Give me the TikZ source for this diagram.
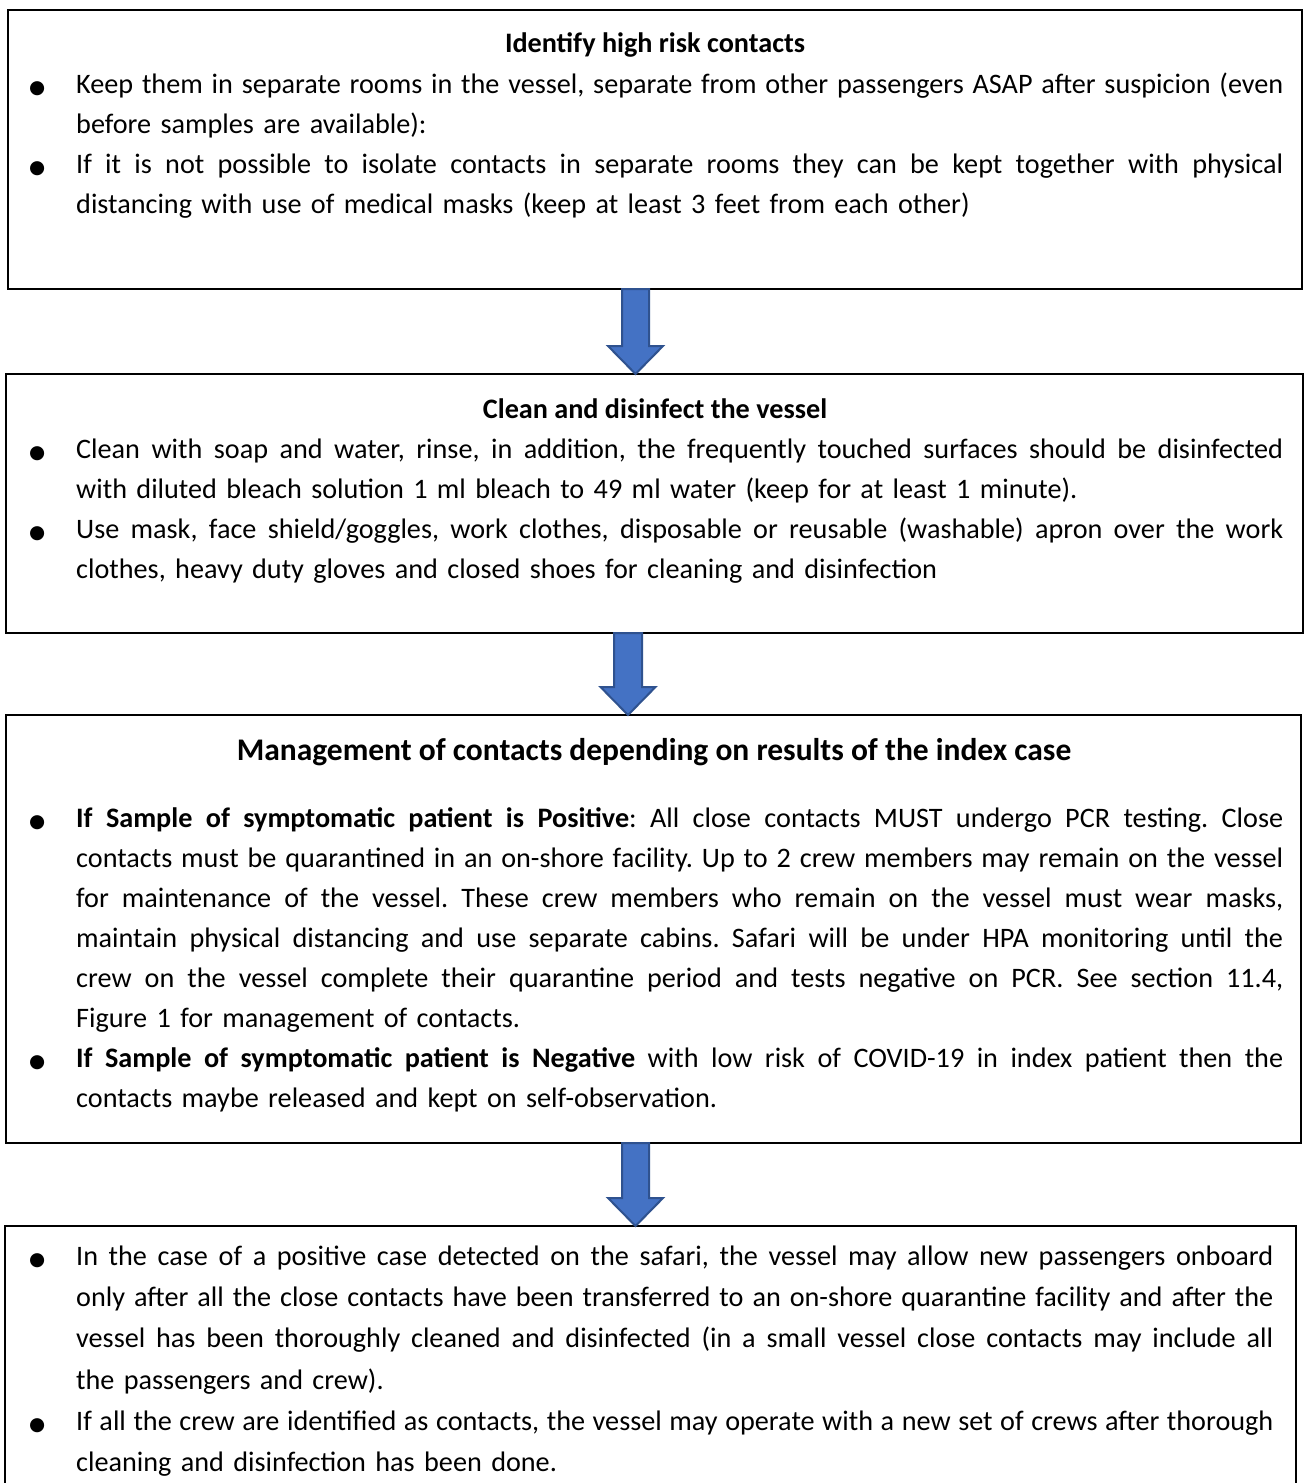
\documentclass[tikz,border=0pt]{standalone}
\usepackage{fontspec}
\setmainfont{Carlito}
\newfontfamily\symfont{DejaVu Sans}
\usetikzlibrary{calc}
\definecolor{arrowfill}{HTML}{4472C4}
\definecolor{arrowline}{HTML}{2F528F}
\frenchspacing
\newlength\bulw
\setlength\bulw{48bp}
\newlength\jw
\setlength\jw{1207bp}
\newcommand\lstrut{\rule{0pt}{25bp}}
\newcommand\bodyfont{\fontsize{28.2bp}{40.1bp}\selectfont}
\newcommand\widefont{\fontsize{28.2bp}{41.3bp}\selectfont}
\newcommand\bulmark{\makebox[\bulw][l]{\hspace{1bp}{\symfont\fontsize{18.5bp}{18.5bp}\selectfont ●}}}
\newcommand\tightsp{\spaceskip=.226em plus .8em minus .12em\relax}
\newcommand\jfirst[1]{\noindent\lstrut\bulmark\makebox[\jw][s]{\tightsp #1}\par}
\newcommand\jmid[1]{\noindent\lstrut\hspace*{\bulw}\makebox[\jw][s]{\tightsp #1}\par}
\newcommand\jlast[1]{\noindent\lstrut\hspace*{\bulw}#1\par}
\tikzset{
  box/.style={draw=black, line width=2.5bp, rectangle, inner sep=0pt, outer sep=0pt},
  title/.style={font=\bodyfont\bfseries, anchor=base, inner sep=0pt},
  bigtitle/.style={font=\fontsize{31.5bp}{40bp}\selectfont\bfseries, anchor=base, inner sep=0pt},
  body/.style={font=\bodyfont, anchor=north west, inner sep=0pt, text width=1270bp},
  bodywide/.style={font=\widefont, anchor=north west, inner sep=0pt, text width=1270bp},
  blockarrow/.style={fill=arrowfill, draw=arrowline, line width=2bp, line join=miter}
}
\newcommand\blockarrow[3]{% start coordinate, tip coordinate, half shaft width
  \draw[blockarrow] ($(#1)+(-#3,0)$) -- ($(#1)+(#3,0)$) -- ($(#2)+(#3,-28)$) -- ($(#2)+(27.5,-28)$) -- (#2) -- ($(#2)+(-27.5,-28)$) -- ($(#2)+(-#3,-28)$) -- cycle;
}
\begin{document}
\begin{tikzpicture}[x=1bp, y=-1bp]
\clip (0,0) rectangle (1307,1483);
\fill[white] (0,0) rectangle (1307,1483);

% boxes
\node[box, minimum width=1294bp, minimum height=279bp] (b1) at (655,149.5) {};
\node[box, minimum width=1297bp, minimum height=259bp] (b2) at (654.5,503.5) {};
\node[box, minimum width=1295bp, minimum height=428bp] (b3) at (653.5,929) {};
\node[box, minimum width=1291bp, minimum height=290bp] (b4) at (650.5,1371) {};

% box 1
\node[title] (t1) at (655,53) {Identify high risk contacts};
\node[body] (x1) at (28,68) {%
\jfirst{Keep them in separate rooms in the vessel, separate from other passengers ASAP after suspicion (even}
\jlast{before samples are available):}
\jfirst{If it is not possible to isolate contacts in separate rooms they can be kept together with physical}
\jlast{distancing with use of medical masks (keep at least 3 feet from each other)}};

% box 2
\node[title] (t2) at (655,418) {Clean and disinfect the vessel};
\node[body] (x2) at (28,433) {%
\jfirst{Clean with soap and water, rinse, in addition, the frequently touched surfaces should be disinfected}
\jlast{with diluted bleach solution 1 ml bleach to 49 ml water (keep for at least 1 minute).}
\jfirst{Use mask, face shield/goggles, work clothes, disposable or reusable (washable) apron over the work}
\jlast{clothes, heavy duty gloves and closed shoes for cleaning and disinfection}};

% box 3
\node[bigtitle] (t3) at (654,760) {Management of contacts depending on results of the index case};
\node[body] (x3) at (28,802) {%
\jfirst{\textbf{If Sample of symptomatic patient is Positive}: All close contacts MUST undergo PCR testing. Close}
\jmid{contacts must be quarantined in an on-shore facility. Up to 2 crew members may remain on the vessel}
\jmid{for maintenance of the vessel. These crew members who remain on the vessel must wear masks,}
\jmid{maintain physical distancing and use separate cabins. Safari will be under HPA monitoring until the}
\jmid{crew on the vessel complete their quarantine period and tests negative on PCR. See section 11.4,}
\jlast{Figure 1 for management of contacts.}
\jfirst{\textbf{If Sample of symptomatic patient is Negative} with low risk of COVID-19 in index patient then the}
\jlast{contacts maybe released and kept on self-observation.}};

% box 4
\node[bodywide] (x4) at (28,1240) {%
\setlength\jw{1197bp}%
\jfirst{In the case of a positive case detected on the safari, the vessel may allow new passengers onboard}
\jmid{only after all the close contacts have been transferred to an on-shore quarantine facility and after the}
\jmid{vessel has been thoroughly cleaned and disinfected (in a small vessel close contacts may include all}
\jlast{the passengers and crew).}
\jfirst{If all the crew are identified as contacts, the vessel may operate with a new set of crews after thorough}
\jlast{cleaning and disinfection has been done.}};

% arrows
\coordinate (ax1) at (635.5,0);
\coordinate (ax2) at (628,0);
\coordinate (a1s) at (b1.south -| ax1);
\coordinate (a1t) at (b2.north -| ax1);
\coordinate (a2s) at (b2.south -| ax2);
\coordinate (a2t) at (b3.north -| ax2);
\coordinate (a3s) at (b3.south -| ax1);
\coordinate (a3t) at (b4.north -| ax1);
\blockarrow{a1s}{a1t}{13.5}
\blockarrow{a2s}{a2t}{14}
\blockarrow{a3s}{a3t}{13.5}
\end{tikzpicture}
\end{document}
